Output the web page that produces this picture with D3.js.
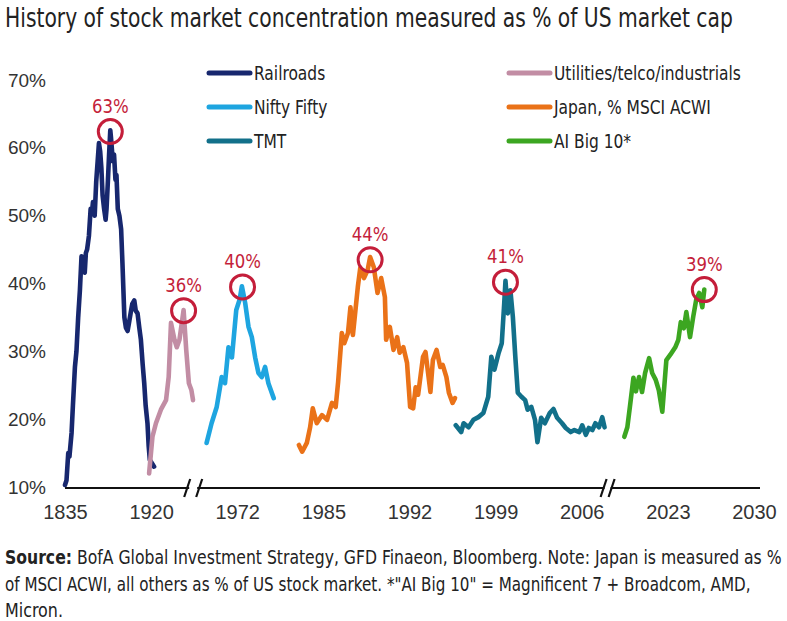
<!DOCTYPE html>
<html>
<head>
<meta charset="utf-8">
<script src="https://cdn.jsdelivr.net/npm/d3@7"></script>
<style>
  html, body { margin: 0; padding: 0; background: #fff; }
  svg { display: block; font-family: "Liberation Sans Narrow", "Arial Narrow", "DejaVu Sans Condensed", sans-serif; }
</style>
</head>
<body>
<div id="chart"></div>
<script>
// tick labels on the (broken) time axis
const tickYears = [1835, 1920, 1972, 1985, 1992, 1999, 2006, 2023, 2030];
const yTicks = [10, 20, 30, 40, 50, 60, 70];
const breakYears = [1945.4, 2011.1];

const seriesNames = ["Railroads", "Utilities/telco/industrials", "Nifty Fifty",
                     "Japan, % MSCI ACWI", "TMT", "AI Big 10*"];

// [year, % of market cap]
const railroads = [
  [1835.0,10.3],[1836.5,11],[1838.2,15],[1839.4,14.5],[1841.5,18],[1842.8,22],[1844.8,27.7],
  [1846.3,30],[1848.0,35],[1849.7,39],[1851.3,44],[1852.6,42],[1854.5,41.6],[1855.6,44.5],
  [1856.8,45],[1858.6,47],[1860.3,51],[1861.6,50.5],[1862.6,52],[1864.3,50],[1865.8,55],
  [1868.5,60.7],[1869.7,59.5],[1870.9,57],[1872.1,53],[1873.6,51],[1875.1,49.4],[1876.0,51],
  [1877.3,55],[1878.5,59],[1879.7,62.6],[1880.4,61.5],[1882.2,58],[1883.4,59],[1884.8,55.3],
  [1885.8,56],[1887.1,51],[1888.7,50],[1890.4,48],[1891.7,43],[1893.6,35],[1895.1,33.5],
  [1896.8,33],[1898.5,34.5],[1900.2,36],[1901.4,37],[1903.4,37.5],[1904.8,36],[1906.6,35.6],
  [1908.3,33.5],[1909.9,31.7],[1911.7,28],[1913.2,25.3],[1914.6,22],[1916.4,19.4],
  [1917.6,16],[1918.7,14],[1920.5,13.5],[1921.8,13]
];
const utilities = [
  [1918.0,12],[1920.8,17.4],[1922.9,19.4],[1925.9,21.4],[1929.0,22.8],[1930.6,26.2],
  [1932.0,34.2],[1934.1,31.7],[1935.5,30.6],[1937.1,31.7],[1939.6,36.1],[1941.2,30.2],
  [1942.8,25.3],[1944.3,24.3],[1945.3,22.8]
];
const niftyFifty = [
  [1953.5,16.5],[1956.5,19.4],[1959.6,21.8],[1962.6,26.2],[1964.6,25.3],[1966.7,30.6],
  [1968.8,29.1],[1971.4,36.1],[1972.35,37.6],[1972.7,39.6],[1973.2,37.1],[1973.7,33.6],
  [1974.2,32.1],[1974.7,29.1],[1975.2,26.8],[1975.7,26.2],[1976.2,27.7],[1976.7,25.3],
  [1977.5,23.1]
];
const japan = [
  [1981.3,16.2],[1981.8,15.2],[1982.5,16.5],[1983.0,18.8],[1983.4,21.6],[1984.0,19.4],
  [1984.8,20.6],[1985.3,19.9],[1985.7,22.4],[1986.0,21.8],[1986.2,25.5],[1986.5,32.7],
  [1986.7,31.2],[1987.0,32.7],[1987.2,36.5],[1987.4,32.4],[1987.8,39.5],[1988.0,42.3],
  [1988.3,40.8],[1988.6,42],[1988.8,43.9],[1989.1,42.4],[1989.4,38.6],[1989.7,40.8],
  [1990.0,38],[1990.1,31.7],[1990.4,33.6],[1990.7,30.2],[1991.0,32.1],[1991.2,29.8],
  [1991.5,30.6],[1991.8,28.3],[1992.05,21.8],[1992.3,21.6],[1992.5,24.7],[1992.7,23.6],
  [1993.1,29.2],[1993.3,29.9],[1993.7,24],[1993.9,28.7],[1994.2,30.2],[1994.5,27.7],
  [1994.7,28],[1995.0,26.2],[1995.2,23.9],[1995.5,22.4],[1995.7,23.1]
];
const tmt = [
  [1995.76,19.1],[1996.2,18.1],[1996.4,19.4],[1996.8,18.8],[1997.2,19.9],[1997.6,20.3],
  [1998.0,20.9],[1998.4,23.3],[1998.65,29.2],[1998.9,27.3],[1999.25,29.8],[1999.5,31.2],
  [1999.7,37.1],[1999.8,40.4],[1999.99,35.6],[2000.2,39],[2000.4,35.1],[2000.6,29.2],
  [2000.8,23.9],[2001.1,23.3],[2001.4,22.8],[2001.6,21.4],[2001.9,21.8],[2002.2,19.9],
  [2002.4,16.6],[2002.7,20.2],[2003.0,19.4],[2003.4,20.9],[2003.7,21.5],[2004.0,20.2],
  [2004.4,19.4],[2004.7,18.7],[2005.1,18.1],[2005.4,18.4],[2005.8,18.1],[2006.1,19.1],
  [2006.8,17.7],[2007.4,18.7],[2008.1,18.4],[2008.7,19.4],[2009.4,18.8],[2010.05,20.3],
  [2010.5,18.8]
];
const aiBig10 = [
  [2014.4,17.4],[2015.0,18.8],[2015.5,21.8],[2016.2,26.1],[2016.7,24.1],[2017.3,26.2],
  [2017.9,24],[2018.5,26.8],[2019.3,29],[2019.9,26.8],[2020.6,25.8],[2021.2,24.3],
  [2021.9,21.1],[2022.7,28.7],[2023.2,29.5],[2023.6,30.6],[2023.85,31.7],[2024.05,34.3],
  [2024.3,33.4],[2024.5,35.8],[2024.8,32.1],[2025.06,35.1],[2025.3,37.6],[2025.55,38.6],
  [2025.8,36.5],[2025.96,39.1]
];
const seriesData = [railroads, utilities, niftyFifty, japan, tmt, aiBig10];
const seriesColors = ["#17276e", "#c28da4", "#1ea5e0", "#ea7218", "#12708a", "#3ca621"];

// peak call-outs
const peakYears  = [1879.7, 1939.6, 1972.8, 1988.8, 1999.8, 2025.96];
const peakValues = [62.4, 36, 39.5, 43.5, 40.2, 39.1];
const peakLabels = ["63%", "36%", "40%", "44%", "41%", "39%"];

const W = 787, H = 621;
const svg = d3.select("#chart").append("svg")
    .attr("width", W)
    .attr("height", H);

// no narrow font here, so squeeze start-anchored text horizontally
function squeeze(sel, x0, y0, opts) {
  sel.each(function() {
    const len = this.getComputedTextLength();
    const f = opts.width ? opts.width / len : opts.factor;
    d3.select(this)
        .attr("x", 0).attr("y", 0)
        .attr("transform", "translate(" + x0 + "," + y0 + ") scale(" + f + ",1)");
  });
}

// title
svg.append("text")
    .attr("font-size", 26)
    .attr("fill", "#222")
    .text("History of stock market concentration measured as % of US market cap")
    .call(squeeze, 5, 27, {width: 728});

// x: piecewise scale, each tick label gets an equal slot
const x = d3.scaleLinear()
    .domain(tickYears)
    .range(tickYears.map((d, i) => 65 + i * 86.125));

const y = d3.scaleLinear()
    .domain([10, 70])
    .range([487, 80]);

// y axis (labels only)
const yAxis = svg.append("g")
    .attr("transform", "translate(46,0)")
    .call(d3.axisLeft(y).tickValues(yTicks).tickSize(0).tickPadding(0).tickFormat(d => d + "%"));
yAxis.select(".domain").remove();
yAxis.selectAll("text")
    .attr("font-size", 19)
    .attr("font-family", null)
    .attr("fill", "#333");

// x axis labels
const xAxis = svg.append("g")
    .attr("transform", "translate(0,488)")
    .call(d3.axisBottom(x).tickValues(tickYears).tickSize(0).tickPadding(17).tickFormat(d3.format("d")));
xAxis.select(".domain").remove();
xAxis.selectAll("text")
    .attr("font-size", 20)
    .attr("font-family", null)
    .attr("fill", "#333");

// axis line with break gaps
const bx = breakYears.map(x);
const xEnd = x.range()[x.range().length - 1] + 6;
const segs = [[x(tickYears[0]), bx[0] - 4], [bx[0] + 4, bx[1] - 3], [bx[1] + 3, xEnd]];
svg.append("g").selectAll("line")
  .data(segs)
  .enter().append("line")
    .attr("x1", d => d[0]).attr("x2", d => d[1])
    .attr("y1", 488).attr("y2", 488)
    .attr("stroke", "#111")
    .attr("stroke-width", 2);

const slashes = [];
bx.forEach((b, i) => {
  const gap = i === 0 ? 6 : 4;
  slashes.push(b - gap, b + gap);
});
svg.append("g").selectAll("line")
  .data(slashes)
  .enter().append("line")
    .attr("x1", d => d - 3).attr("x2", d => d + 3)
    .attr("y1", 497).attr("y2", 479)
    .attr("stroke", "#111")
    .attr("stroke-width", 2.2);

// series
const line = d3.line()
    .x(d => x(d[0]))
    .y(d => y(d[1]));

svg.append("g").selectAll(".series")
  .data(seriesData)
  .enter().append("path")
    .attr("class", "series")
    .attr("d", line)
    .attr("fill", "none")
    .attr("stroke", (d, i) => seriesColors[i])
    .attr("stroke-width", 4.6)
    .attr("stroke-linejoin", "round")
    .attr("stroke-linecap", "round");

// peak circles and labels
const peaks = svg.append("g").selectAll("g")
  .data(peakYears)
  .enter().append("g")
    .attr("transform", (d, i) => "translate(" + x(d) + "," + y(peakValues[i]) + ")");
peaks.append("circle")
    .attr("r", 12)
    .attr("fill", "none")
    .attr("stroke", "#c41e3a")
    .attr("stroke-width", 3);
peaks.append("text")
    .attr("y", -19)
    .attr("text-anchor", "middle")
    .attr("font-size", 20)
    .attr("fill", "#c41e3a")
    .attr("transform", "scale(0.92,1)")
    .text((d, i) => peakLabels[i]);

// legend: two columns of three
const legendOrder = [0, 2, 4, 1, 3, 5];
const legend = svg.append("g").selectAll("g")
  .data(legendOrder)
  .enter().append("g")
    .attr("transform", (d, i) => "translate(" + (i < 3 ? 207 : 507) + "," + (73 + (i % 3) * 34) + ")");
legend.append("line")
    .attr("x1", 2).attr("x2", 43)
    .attr("stroke", d => seriesColors[d])
    .attr("stroke-width", 5)
    .attr("stroke-linecap", "round");
legend.append("text")
    .attr("dy", "0.35em")
    .attr("font-size", 20)
    .attr("fill", "#222")
    .text(d => seriesNames[d])
    .call(squeeze, 47, 0, {factor: 0.86});

// source note, one text per line
const noteLines = [
  ["Source:", " BofA Global Investment Strategy, GFD Finaeon, Bloomberg. Note: Japan is measured as %", 777],
  ["", "of MSCI ACWI, all others as % of US stock market. *\"AI Big 10\" = Magnificent 7 + Broadcom, AMD,", 746],
  ["", "Micron.", 58]
];
noteLines.forEach((ln, i) => {
  const t = svg.append("text")
      .attr("font-size", 20)
      .attr("fill", "#222");
  if (ln[0]) t.append("tspan").attr("font-weight", "bold").text(ln[0]);
  t.append("tspan").text(ln[1]);
  t.call(squeeze, 5, 564 + i * 26.5, {width: ln[2]});
});
</script>
</body>
</html>
